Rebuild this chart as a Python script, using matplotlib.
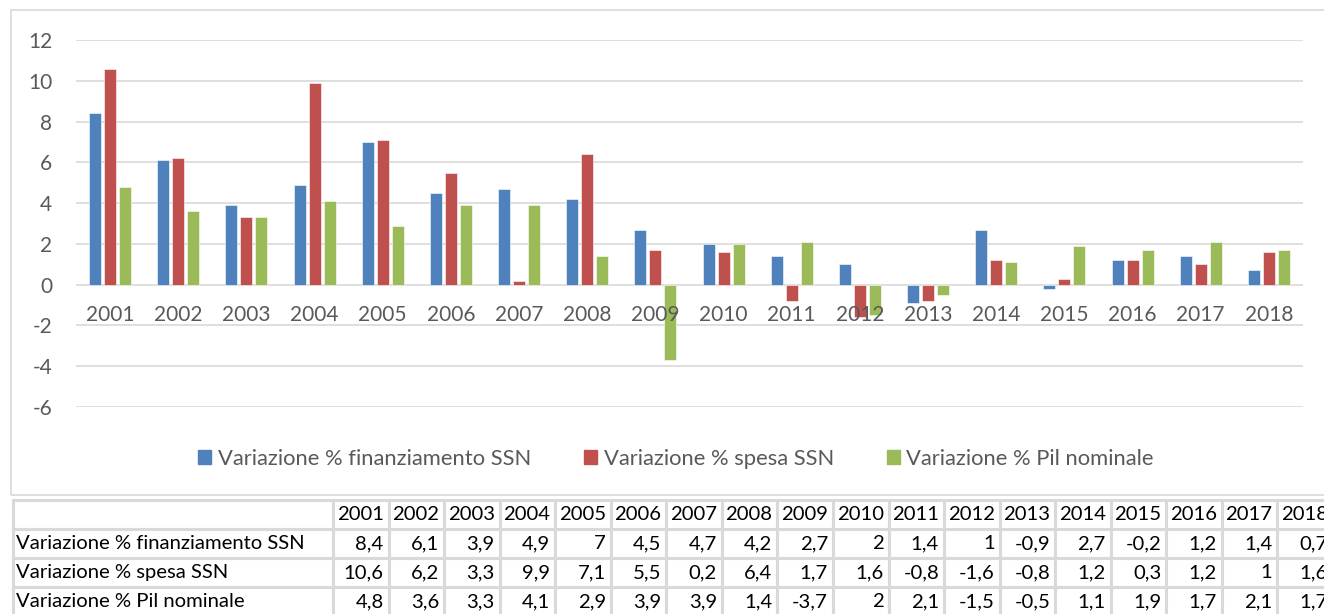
import matplotlib
matplotlib.use("Agg")
import matplotlib.pyplot as plt
from matplotlib.patches import Rectangle, Patch
import numpy as np

plt.rcParams['font.family'] = ['Lato', 'DejaVu Sans']
plt.rcParams['axes.unicode_minus'] = False

years = ['2001', '2002', '2003', '2004', '2005', '2006', '2007', '2008', '2009',
         '2010', '2011', '2012', '2013', '2014', '2015', '2016', '2017', '2018']
finanziamento = [8.4, 6.1, 3.9, 4.9, 7, 4.5, 4.7, 4.2, 2.7, 2, 1.4, 1, -0.9, 2.7, -0.2, 1.2, 1.4, 0.7]
spesa = [10.6, 6.2, 3.3, 9.9, 7.1, 5.5, 0.2, 6.4, 1.7, 1.6, -0.8, -1.6, -0.8, 1.2, 0.3, 1.2, 1, 1.6]
pil = [4.8, 3.6, 3.3, 4.1, 2.9, 3.9, 3.9, 1.4, -3.7, 2, 2.1, -1.5, -0.5, 1.1, 1.9, 1.7, 2.1, 1.7]
series_names = ['Variazione % finanziamento SSN', 'Variazione % spesa SSN', 'Variazione % Pil nominale']
colors = ['#4F81BD', '#C0504D', '#9BBB59']

W, H = 1324, 614
fig = plt.figure(figsize=(W / 100, H / 100), dpi=100)

# chart frame
fig.add_artist(Rectangle((11 / W, (H - 495) / H), 1.2, 485 / H, transform=fig.transFigure,
                         fill=False, ec='#d9d9d9', lw=1.2))

ax = fig.add_axes([76 / W, (H - 407) / H, (1303 - 76) / W, (407 - 40) / H])
x = np.arange(len(years))
bw = 0.176
for i, (vals, c) in enumerate(zip([finanziamento, spesa, pil], colors)):
    ax.bar(x + (i - 1) * 0.22, vals, bw, color=c, edgecolor='white', linewidth=0.4, zorder=3,
           label=series_names[i])

ax.set_xlim(-0.5, len(years) - 0.5)
ax.set_ylim(-6, 12)
ax.set_yticks(range(-6, 13, 2))
ax.set_xticks([])
ax.grid(axis='y', color='#d9d9d9', lw=1.2, zorder=0)
for s in ax.spines.values():
    s.set_visible(False)
ax.tick_params(axis='y', length=0, pad=17, labelsize=15, labelcolor='#595959')
for xi, y in zip(x, years):
    ax.annotate(y, (xi, 0), xytext=(0, -22), textcoords='offset points', ha='center', va='center',
                fontsize=15, color='#595959', zorder=4)

handles = [Patch(color=c) for c in colors]
fig.legend(handles, series_names, loc='center', bbox_to_anchor=(676 / W, (H - 459) / H), ncol=3,
           frameon=False, fontsize=15.8, labelcolor='#595959', handlelength=0.6, handleheight=0.6,
           handletextpad=0.3, columnspacing=2.4)

# data table
tax = fig.add_axes([13 / W, (H - 616) / H, 1320 / W, 116 / H])
tax.axis('off')

def fmt(v):
    return f"{v:g}".replace('.', ',')

cell_text = [[''] + years]
for name, vals in zip(series_names, [finanziamento, spesa, pil]):
    cell_text.append([name] + [fmt(v) for v in vals])
col_w = [320 / 1320] + [55.556 / 1320] * len(years)
tbl = tax.table(cellText=cell_text, colWidths=col_w, cellLoc='right', bbox=[0, 0, 1, 1])
tbl.auto_set_font_size(False)
for (r, c), cell in tbl.get_celld().items():
    cell.set_edgecolor('#d9d9d9')
    cell.set_linewidth(2.2)
    cell.get_text().set_fontsize(14.6)
    cell.get_text().set_color('black')
    if c == 0:
        cell._loc = 'left'
        cell.get_text().set_ha('left')
        cell.PAD = 0.008
    else:
        cell.PAD = 0.09

fig.savefig('out.png', dpi=100)
